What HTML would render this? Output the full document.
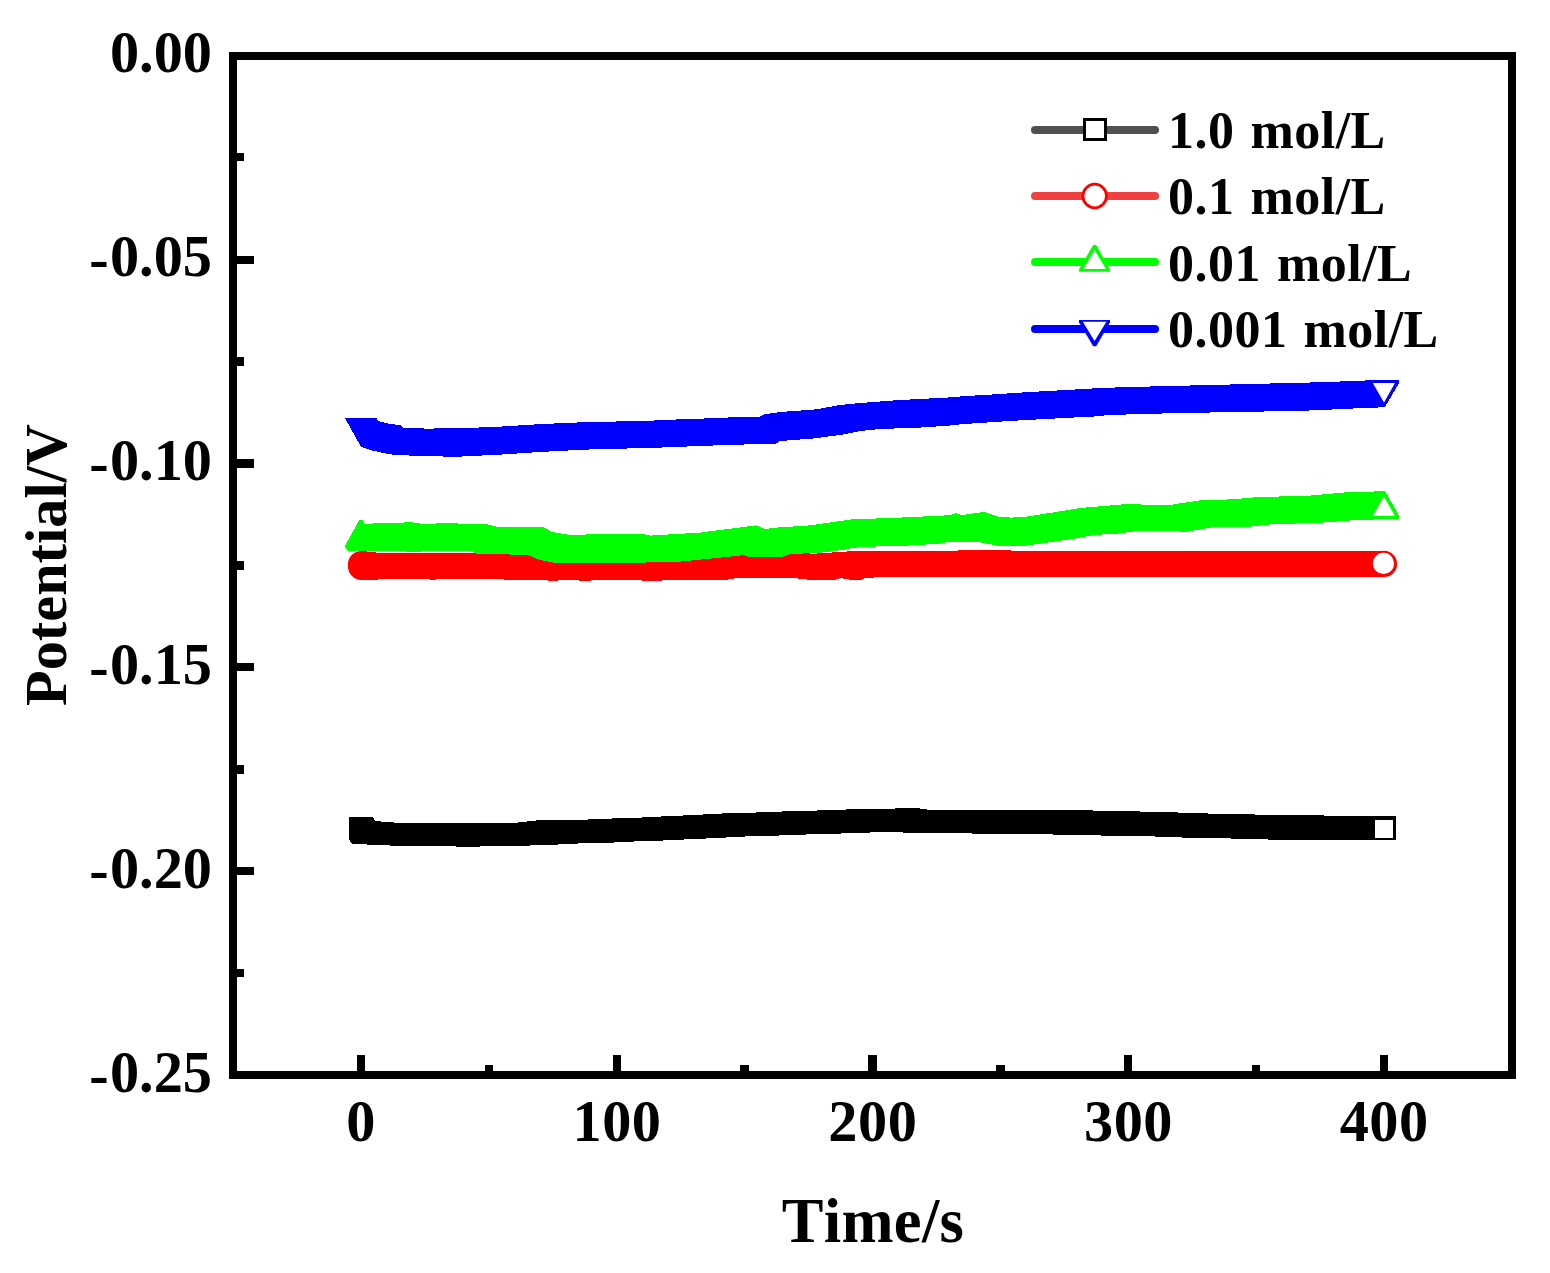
<!DOCTYPE html>
<html lang="en"><head><meta charset="utf-8"><title>Potential vs Time</title>
<style>
html,body{margin:0;padding:0;background:#fff;}
body{width:1550px;height:1273px;overflow:hidden;}
svg{display:block;}
text{font-family:"Liberation Serif","Times New Roman",serif;font-weight:bold;fill:#000;font-kerning:none;}
.tk{font-size:58.33px;}
.tt{font-size:62.5px;letter-spacing:0.3px;}
.ty{font-size:58.33px;}
.tx{letter-spacing:0.5px;}
.lg{font-size:52px;letter-spacing:0.5px;word-spacing:2.4px;}
</style></head><body>
<svg width="1550" height="1273" viewBox="0 0 1550 1273">
<rect x="0" y="0" width="1550" height="1273" fill="#ffffff"/>
<g shape-rendering="crispEdges">
<polygon fill="#000000" points="349,817 372.9,817 373,817 375,821 398,822.8 514.9,822.8 515,822.8 540,820 587.9,820 588,819 611.9,819 612,818 641.9,818 642,817 660.9,817 661,816 682.9,816 683,815 702.9,815 703,814 721.9,814 722,813 755.9,813 756,812 781.9,812 782,811 816.9,811 817,810 845.9,810 846,809 894.9,809 895,808 919.9,808 920,809 926.9,809 927,810 1031.9,810 1032,810 1092.9,810 1093,811 1139.9,811 1140,812 1177.9,812 1178,813 1207.9,813 1208,814 1254.9,814 1255,815 1323.9,815 1324,816 1395.9,816 1396,817 1396,839.8 1395.9,839.8 1268,839.8 1267.9,838.8 1231,838.8 1230.9,837.8 1182,837.8 1181.9,836.8 1155,836.8 1154.9,835.8 1101,835.8 1100.9,834.8 1053,834.8 1052.9,833.8 972,833.8 971.9,832.6 903,832.6 902.9,832 870,832 869.9,833 841,833 840.9,834 806,834 805.9,835 779,835 778.9,836 745,836 744.9,837 726,837 725.9,838 706,838 705.9,838.6 684,838.6 683.9,839.6 663,839.6 662.9,840.8 634,840.8 633.9,842 614,842 613.9,843 578,843 577.9,843.6 558,843.6 557.9,844.6 530,844.6 529.9,845.6 480,845.6 479.9,846.6 456,846.6 455.9,845.6 392,845.6 352.3,843.9 350,841.5 349,838.7"/>
<circle cx="361.4" cy="564.3" r="13.4" fill="#ff0000" shape-rendering="auto"/>
<circle cx="361.4" cy="566.6" r="13.4" fill="#ff0000" shape-rendering="auto"/>
<polygon fill="#ff0000" points="362,551 380,553 500,553 550,555 640,556 700,555 740,552.5 816,553.6 852,551.2 950,551 960,550.4 1250,551 1384,551 1384,576.6 950,576.6 866,577.6 862,579.6 850,579.6 840,578 836,579.6 808,579.6 790,577.6 728,578.6 727.8,579.6 662.2,579.6 662,580.6 642.2,580.6 642,579.6 591.2,579.6 591,580.6 579.2,580.6 579,579.6 558.2,579.6 558,580.6 548.2,580.6 548,579.6 504,579.6 500,578.6 440,578.6 436,579.6 430,579.6 426,578.6 380,578.6 378,579.6 362,579.6"/>
<polygon fill="#00ff00" points="345,546 359.4,519.6 362.6,519.6 364.2,523.8 373,523.8 373.2,522.9 412,522.4 426,524.4 440,523.2 486,524 496,526.6 544,527.4 552,532 572,535.4 600,533.6 640,533.6 650,535.6 700,532.6 756,525.4 766,529.4 770,528 810,525.4 852,519.4 900,517.6 950,515.2 956,513.2 962,515 984,512 1000,517 1012,517.6 1028,516.4 1056,512 1080,508 1104,506 1126,504 1144,504.6 1172,504.6 1200,500.4 1220,500 1244,498.4 1256,497.2 1310,495.6 1350,492 1373,492 1374,491 1385,491 1399,515.4 1399,518.9 1399,518.9 1374,518.9 1373.8,520 1356,520 1326,522.4 1270,524.4 1250,526.6 1214,527 1188,531.6 1136,531 1120,533.4 1094,535 1072,539 1044,543 1026,545.6 998,545.6 978,542 950,541.6 940,543.6 912,545.4 860,547 828,552 816,553 790,554 782,557 749,557 744,555 732,556.4 676,562 640,562.6 554,562.6 540,560 528,555 476,553.6 472,551 412,551.6 348,550.6 345,547"/>
<polygon fill="#0000ff" points="345,418 377,418 378,421 390,424 400,425 404,428 428,428.6 468,428 504,426.4 542,424 580,422.4 628,421.2 650,420.8 660,420 692,419 740,417 760,416.6 764,414.4 780,412 816,409.4 840,405 860,403 900,400 950,397.4 966,396 1000,394 1030,392 1066,390 1100,388 1130,387 1170,386 1210,385 1250,384 1290,383 1330,382 1350,381 1364.8,381 1365,380 1399,380 1399,380 1399,383 1386.3,404.8 1385,407 1378,407 1378,408 1366,408 1350,408.6 1314,410.4 1270,411.4 1216,412.4 1180,413 1144,414 1108,415 1096,416.4 1064,418 1026,420 994,422 964,424 950,425.5 920,427.6 880,429 860,431 840,435 812,438.6 780,441 776,443.6 726,445 674,447 650,448 596,449.2 570,450.4 540,452 504,454.4 460,456.6 424,456.4 390,454.4 370,450 361,447"/>
</g>
<rect x="1375" y="820" width="18" height="18" fill="#fff" shape-rendering="crispEdges"/>
<circle cx="1384" cy="563.95" r="13.1" fill="#ff0000"/>
<circle cx="1383.5" cy="563.4" r="10.6" fill="#fff"/>
<polygon points="1384,496.6 1394.8,515.8 1372.8,515.8" fill="#fff"/>
<polygon points="1384,402.4 1372.8,382.9 1395,382.9" fill="#fff"/>
<g shape-rendering="crispEdges" fill="#000">
<rect x="229" y="52" width="1287" height="8"/>
<rect x="229" y="1071" width="1287" height="8"/>
<rect x="229" y="52" width="8" height="1027"/>
<rect x="1508" y="52" width="8" height="1027"/>
<rect x="357" y="1055" width="8" height="17"/>
<rect x="485" y="1065" width="8" height="7"/>
<rect x="613" y="1055" width="8" height="17"/>
<rect x="740" y="1065" width="9" height="7"/>
<rect x="868" y="1055" width="9" height="17"/>
<rect x="996" y="1065" width="9" height="7"/>
<rect x="1124" y="1055" width="8" height="17"/>
<rect x="1252" y="1065" width="8" height="7"/>
<rect x="1380" y="1055" width="8" height="17"/>
<rect x="236" y="153" width="8" height="8"/>
<rect x="236" y="256" width="18" height="8"/>
<rect x="236" y="357" width="8" height="9"/>
<rect x="236" y="459" width="18" height="9"/>
<rect x="236" y="561" width="8" height="9"/>
<rect x="236" y="663" width="18" height="8"/>
<rect x="236" y="765" width="8" height="9"/>
<rect x="236" y="867" width="18" height="8"/>
<rect x="236" y="969" width="8" height="8"/>
</g>
<text class="tk" x="212" y="72.3" text-anchor="end">0.00</text>
<text class="tk" x="213.2" y="276.4" text-anchor="end"><tspan dx="-1.2" dy="1.5">-</tspan><tspan dx="1.2" dy="-1.5">0.05</tspan></text>
<text class="tk" x="213.2" y="480.2" text-anchor="end"><tspan dx="-1.2" dy="1.5">-</tspan><tspan dx="1.2" dy="-1.5">0.10</tspan></text>
<text class="tk" x="213.2" y="684" text-anchor="end"><tspan dx="-1.2" dy="1.5">-</tspan><tspan dx="1.2" dy="-1.5">0.15</tspan></text>
<text class="tk" x="213.2" y="887.8" text-anchor="end"><tspan dx="-1.2" dy="1.5">-</tspan><tspan dx="1.2" dy="-1.5">0.20</tspan></text>
<text class="tk" x="213.2" y="1092.2" text-anchor="end"><tspan dx="-1.2" dy="1.5">-</tspan><tspan dx="1.2" dy="-1.5">0.25</tspan></text>
<text class="tk tx" x="361.2" y="1141.2" text-anchor="middle">0</text>
<text class="tk tx" x="617" y="1141.2" text-anchor="middle">100</text>
<text class="tk tx" x="872.8" y="1141.2" text-anchor="middle">200</text>
<text class="tk tx" x="1128.5" y="1141.2" text-anchor="middle">300</text>
<text class="tk tx" x="1384.2" y="1141.2" text-anchor="middle">400</text>
<text class="tt" x="873" y="1241.5" text-anchor="middle">Time/s</text>
<text class="ty" transform="translate(66,565) rotate(-90)" text-anchor="middle">Potential/V</text>
<line x1="1035" y1="130" x2="1155" y2="130" stroke="#505050" stroke-width="8" stroke-linecap="round"/>
<rect x="1083" y="118" width="24" height="23" fill="#000000" shape-rendering="crispEdges"/>
<rect x="1086" y="121" width="18" height="17" fill="#fff" shape-rendering="crispEdges"/>
<text class="lg" x="1168" y="148.3">1.0 mol/L</text>
<line x1="1035" y1="196" x2="1155" y2="196" stroke="#f04040" stroke-width="8" stroke-linecap="round"/>
<circle cx="1094.7" cy="196" r="13.2" fill="#ff0000"/>
<circle cx="1094.7" cy="196" r="10.4" fill="#fff"/>
<text class="lg" x="1168" y="214.3">0.1 mol/L</text>
<line x1="1035" y1="262" x2="1155" y2="262" stroke="#00ff00" stroke-width="8" stroke-linecap="round"/>
<polygon points="1093.2,245 1096.2,245 1110,269.5 1110,271.8 1079,271.8 1079,269.5" fill="#00ff00"/>
<polygon points="1094.6,250 1106,268.9 1083.4,268.9" fill="#fff"/>
<text class="lg" x="1168" y="281">0.01 mol/L</text>
<line x1="1035" y1="329" x2="1155" y2="329" stroke="#0000ff" stroke-width="8" stroke-linecap="round"/>
<polygon points="1079,320 1110,320 1110,322.3 1096.2,346.2 1093.2,346.2 1079,322.3" fill="#0000ff"/>
<polygon points="1082.8,321.8 1106.4,321.8 1094.6,341" fill="#fff"/>
<text class="lg" x="1168" y="347.3">0.001 mol/L</text>
</svg>
</body></html>
